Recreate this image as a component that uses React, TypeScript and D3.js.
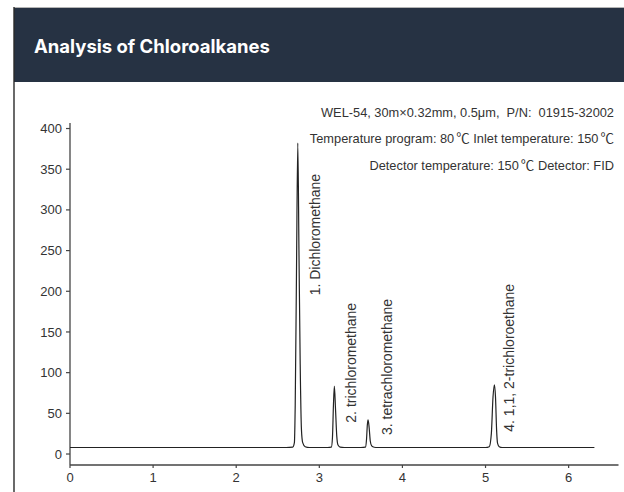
import React from "react";
import * as d3 from "d3";

const TITLE = "Analysis of Chloroalkanes";
const INFO_LINES = [
  "WEL-54, 30m×0.32mm, 0.5μm,  P/N:  01915-32002",
  "Temperature program: 80℃ Inlet temperature: 150℃",
  "Detector temperature: 150℃ Detector: FID",
];
const X_TICKS = [0, 1, 2, 3, 4, 5, 6];
const Y_TICKS = [0, 50, 100, 150, 200, 250, 300, 350, 400];

// chromatogram signal: [time (min), response]
const SIGNAL_TIME = [
  0, 2.6, 2.68, 2.7, 2.71, 2.725, 2.741, 2.755, 2.77, 2.785, 2.8, 2.83, 2.88,
  3.1, 3.145, 3.158, 3.17, 3.181, 3.195, 3.21, 3.225, 3.25, 3.3,
  3.5, 3.555, 3.568, 3.578, 3.587, 3.6, 3.613, 3.63, 3.66, 3.7,
  5.0, 5.045, 5.07, 5.09, 5.107, 5.12, 5.133, 5.145, 5.165, 5.2, 6.31,
];
const SIGNAL_VALUE = [
  8, 8, 8.5, 14, 60, 220, 382, 250, 110, 30, 14, 9, 8,
  8, 8.5, 20, 60, 83.5, 55, 22, 11, 8.5, 8,
  8, 8.5, 18, 36, 42, 32, 16, 10, 8.3, 8,
  8, 9, 25, 70, 85, 70, 30, 13, 9, 8, 8,
];

const PEAK_NAMES = [
  "1. Dichloromethane",
  "2. trichloromethane",
  "3. tetrachloromethane",
  "4. 1,1, 2-trichloroethane",
];
const PEAK_TIMES = [2.741, 3.181, 3.587, 5.107];
const LABEL_BOTTOM_VALUES = [195, 38.5, 23.3, 27.4];

const W = 624;
const H = 492;

export default function App() {
  const x = d3.scaleLinear().domain([0, 6.6]).range([70, 618.5]);
  const y = d3.scaleLinear().domain([-13.5, 406.8]).range([465, 123]);
  const pts: [number, number][] = SIGNAL_TIME.map((t, i) => [t, SIGNAL_VALUE[i]]);
  const line = d3
    .line<[number, number]>()
    .x((d) => x(d[0]))
    .y((d) => y(d[1]))
    .curve(d3.curveMonotoneX);
  const axisColor = "#444";
  const textColor = "#333";
  const font = "'Liberation Sans', Arial, sans-serif";
  const cjk = "'Noto Sans CJK SC', sans-serif";
  const labelOffsets = [22, 22, 24, 20];

  return (
    <svg
      width={W}
      height={H}
      style={{ position: "absolute", left: 0, top: 0, background: "#fff" }}
    >
      {/* card */}
      <rect x={14} y={8} width={W - 14} height={74} fill="#263243" />
      <line x1={14} x2={W} y1={7.5} y2={7.5} stroke="#b5b5b5" strokeWidth={1} />
      <line x1={14} x2={14} y1={7} y2={H} stroke="#2a2a2a" strokeWidth={1.4} />
      <text
        x={34}
        y={53}
        fill="#fff"
        fontFamily="Inter, 'Open Sans', sans-serif"
        fontWeight={700}
        fontSize={18.5}
      >
        {TITLE}
      </text>

      {/* info text */}
      {INFO_LINES.map((s, i) => {
        const parts = s.split("℃");
        return (
          <text
            key={i}
            x={614}
            y={116.5 + i * 26.7}
            textAnchor="end"
            fontFamily={font}
            fontSize={12.8}
            fill={textColor}
            style={{ whiteSpace: "pre" }}
          >
            {parts.map((p, j) => (
              <React.Fragment key={j}>
                <tspan>{p}</tspan>
                {j < parts.length - 1 && (
                  <tspan fontFamily={cjk} fontSize={13.5} dx={2}>
                    ℃
                  </tspan>
                )}
              </React.Fragment>
            ))}
          </text>
        );
      })}

      {/* y axis */}
      <line x1={70} x2={70} y1={y.range()[1]} y2={y.range()[0]} stroke={axisColor} strokeWidth={1.3} />
      {Y_TICKS.map((v) => (
        <g key={v} transform={`translate(0,${y(v)})`}>
          <line x1={66} x2={70} stroke={axisColor} strokeWidth={1.2} />
          <text
            x={62}
            dy="0.35em"
            textAnchor="end"
            fontFamily={font}
            fontSize={13}
            fill={textColor}
          >
            {v}
          </text>
        </g>
      ))}

      {/* x axis */}
      <line x1={70} x2={x.range()[1]} y1={465} y2={465} stroke={axisColor} strokeWidth={1.3} />
      {X_TICKS.map((v) => (
        <g key={v} transform={`translate(${x(v)},0)`}>
          <line y1={465} y2={468} stroke={axisColor} strokeWidth={1.2} />
          <text
            y={482}
            textAnchor="middle"
            fontFamily={font}
            fontSize={13}
            fill={textColor}
          >
            {v}
          </text>
        </g>
      ))}

      {/* signal */}
      <path d={line(pts) || ""} fill="none" stroke="#222" strokeWidth={1.2} />

      {/* peak labels */}
      {PEAK_NAMES.map((name, i) => {
        const px = x(PEAK_TIMES[i]) + labelOffsets[i];
        const py = y(LABEL_BOTTOM_VALUES[i]);
        return (
          <text
            key={i}
            transform={`translate(${px},${py}) rotate(-90)`}
            fontFamily={font}
            fontSize={14}
            fill={textColor}
          >
            {name}
          </text>
        );
      })}
    </svg>
  );
}
